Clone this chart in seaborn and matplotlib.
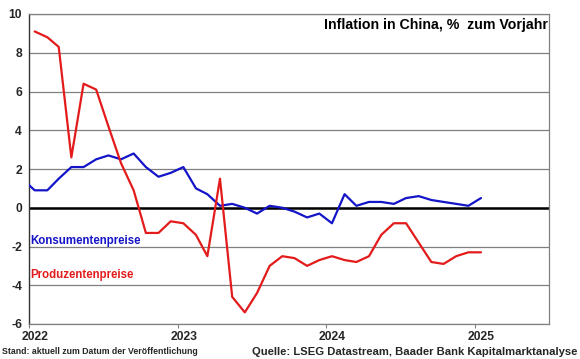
import numpy as np
import pandas as pd
import matplotlib
matplotlib.use('Agg')
import matplotlib.pyplot as plt
import matplotlib.dates as mdates
from matplotlib.transforms import ScaledTranslation
import seaborn as sns

# ── Style ──────────────────────────────────────────────────
sns.set_theme(style="white")
plt.rcParams['font.family'] = ['Liberation Sans', 'DejaVu Sans']
plt.rcParams['font.weight'] = 'bold'

BLUE = '#1414c8'
RED  = '#e31b1b'

# ── Data (monthly, % vs. previous year) ────────────────────
# consumer prices start Dec 2021, producer prices start Jan 2022
cpi_dates = pd.date_range('2021-12-01', '2025-01-01', freq='MS') + pd.Timedelta(days=14)
cpi = [1.5,
       0.9, 0.9, 1.5, 2.1, 2.1, 2.5, 2.7, 2.5, 2.8, 2.1, 1.6, 1.8,
       2.1, 1.0, 0.7, 0.1, 0.2, 0.0, -0.3, 0.1, 0.0, -0.2, -0.5, -0.3,
       -0.8, 0.7, 0.1, 0.3, 0.3, 0.2, 0.5, 0.6, 0.4, 0.3, 0.2, 0.1,
       0.5]

ppi_dates = pd.date_range('2022-01-01', '2025-01-01', freq='MS') + pd.Timedelta(days=14)
ppi = [9.1, 8.8, 8.3, 2.6, 6.4, 6.1, 4.2, 2.3, 0.9, -1.3, -1.3, -0.7,
       -0.8, -1.4, -2.5, 1.5, -4.6, -5.4, -4.4, -3.0, -2.5, -2.6, -3.0, -2.7,
       -2.5, -2.7, -2.8, -2.5, -1.4, -0.8, -0.8, -1.8, -2.8, -2.9, -2.5, -2.3,
       -2.3]

cpi_df = pd.DataFrame({'date': cpi_dates, 'value': cpi})
ppi_df = pd.DataFrame({'date': ppi_dates, 'value': ppi})

y_ticks = list(range(-6, 11, 2))
year_ticks = ['2022', '2023', '2024', '2025']

# ── Plot ───────────────────────────────────────────────────
fig = plt.figure(figsize=(5.8, 3.59), dpi=100)
ax = fig.add_axes([29/580, 35/359, 520/580, 310/359])

for y in y_ticks:
    ax.axhline(y, color='#808080', lw=0.9, zorder=1)
ax.axhline(0, color='black', lw=1.8, zorder=2)

sns.lineplot(data=cpi_df, x='date', y='value', color=BLUE, lw=1.6, ax=ax, zorder=3)
sns.lineplot(data=ppi_df, x='date', y='value', color=RED, lw=1.6, ax=ax, zorder=3)

ax.set_xlim(pd.Timestamp('2022-01-01'), pd.Timestamp('2025-07-01'))
ax.set_ylim(-6, 10)
ax.set_xlabel('')
ax.set_ylabel('')

ax.set_xticks([pd.Timestamp(f'{y}-01-01') for y in year_ticks])
ax.set_xticklabels(year_ticks)
ax.set_yticks(y_ticks)
ax.set_yticklabels([str(v) for v in y_ticks])
ax.tick_params(axis='x', bottom=True, length=3, width=0.8, color='#808080',
               labelsize=8.7, pad=2)
ax.tick_params(axis='y', left=False, length=0, labelsize=8.7, pad=5)
for lbl in ax.get_xticklabels():
    lbl.set_transform(lbl.get_transform() + ScaledTranslation(6/100, 0, fig.dpi_scale_trans))
    lbl.set_fontweight('bold')
for lbl in ax.get_yticklabels():
    lbl.set_fontweight('bold')

for side in ['top', 'right', 'bottom']:
    ax.spines[side].set_color('#808080')
    ax.spines[side].set_linewidth(0.9)
ax.spines['left'].set_color('#333333')
ax.spines['left'].set_linewidth(1.0)

# ── Labels ─────────────────────────────────────────────────
ax.text(0.998, 0.965, 'Inflation in China, %  zum Vorjahr', transform=ax.transAxes,
        ha='right', va='center', fontsize=10.2, fontweight='bold', color='black')
ax.text(pd.Timestamp('2022-01-05'), -1.7, 'Konsumentenpreise', color=BLUE,
        ha='left', va='center', fontsize=8.3, fontweight='bold')
ax.text(pd.Timestamp('2022-01-05'), -3.45, 'Produzentenpreise', color=RED,
        ha='left', va='center', fontsize=8.3, fontweight='bold')

fig.text(2/580, 7/359, 'Stand: aktuell zum Datum der Veröffentlichung',
         ha='left', va='center', fontsize=6.3, fontweight='bold')
fig.text(577/580, 7/359, 'Quelle: LSEG Datastream, Baader Bank Kapitalmarktanalyse',
         ha='right', va='center', fontsize=8.1, fontweight='bold')

plt.savefig('out.png', dpi=100)
